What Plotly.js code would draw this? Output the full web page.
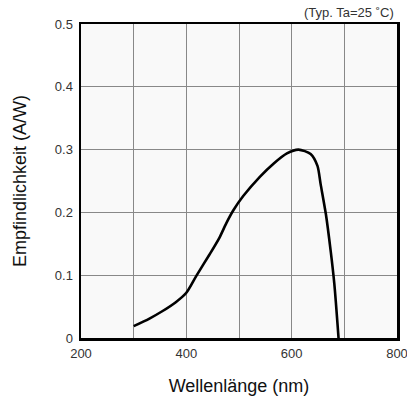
<!DOCTYPE html>
<html>
<head>
<meta charset="utf-8">
<script src="https://cdn.plot.ly/plotly-3.0.1.min.js"></script>
<style>html,body{margin:0;padding:0;background:#fff;}#chart{width:407px;height:402px;}</style>
</head>
<body>
<div id="chart"></div>
<script>
const wavelength = [300, 330, 355, 380, 400, 419, 444, 463, 476, 489, 508, 540, 566, 591, 613, 636, 649, 655, 665, 674, 681, 689];
const responsivity = [0.019, 0.031, 0.043, 0.057, 0.072, 0.099, 0.133, 0.160, 0.183, 0.203, 0.226, 0.257, 0.278, 0.294, 0.300, 0.293, 0.274, 0.245, 0.197, 0.139, 0.086, 0.0];
const xTicks = [200, 300, 400, 500, 600, 700, 800];
const xTickText = ['200', '', '400', '', '600', '', '800'];
const yTicks = [0, 0.1, 0.2, 0.3, 0.4, 0.5];
const yTickText = ['0', '0.1', '0.2', '0.3', '0.4', '0.5'];

const trace = {
  x: wavelength, y: responsivity, type: 'scatter', mode: 'lines',
  line: {color: '#000', width: 2.6, shape: 'spline', smoothing: 0.7},
  hoverinfo: 'none'
};
const fontFam = 'Liberation Sans, Arial, sans-serif';
const layout = {
  width: 407, height: 402,
  margin: {l: 81, r: 10, t: 24, b: 64},
  paper_bgcolor: '#fff', plot_bgcolor: '#f9f9f9',
  showlegend: false,
  font: {family: fontFam, color: '#333', size: 13},
  xaxis: {
    range: [200, 800], tickvals: xTicks, ticktext: xTickText,
    showgrid: true, gridcolor: '#888', gridwidth: 1,
    showline: true, linecolor: '#000', linewidth: 2.5, mirror: true,
    ticks: '', zeroline: false, fixedrange: true,
    ticklabelstandoff: 2, ticklabeloverflow: 'allow',
    tickfont: {family: fontFam, size: 13, color: '#333'},
    title: {text: 'Wellenlänge (nm)', font: {family: fontFam, size: 18, color: '#111'}, standoff: 20}
  },
  yaxis: {
    range: [0, 0.5], tickvals: yTicks, ticktext: yTickText,
    showgrid: true, gridcolor: '#888', gridwidth: 1,
    showline: true, linecolor: '#000', linewidth: 2.5, mirror: true,
    ticks: '', zeroline: false, fixedrange: true,
    ticklabelstandoff: 3,
    tickfont: {family: fontFam, size: 13, color: '#333'},
    title: {text: 'Empfindlichkeit (A/W)', font: {family: fontFam, size: 18, color: '#111'}, standoff: 24}
  },
  annotations: [{
    text: '(Typ. Ta=25 ˚C)', xref: 'paper', yref: 'paper', x: 1, y: 1, xanchor: 'right', yanchor: 'bottom',
    showarrow: false, xshift: -1, yshift: 2, font: {family: fontFam, size: 13, color: '#333'}
  }]
};
Plotly.newPlot('chart', [trace], layout, {staticPlot: true, displayModeBar: false});
</script>
</body>
</html>
